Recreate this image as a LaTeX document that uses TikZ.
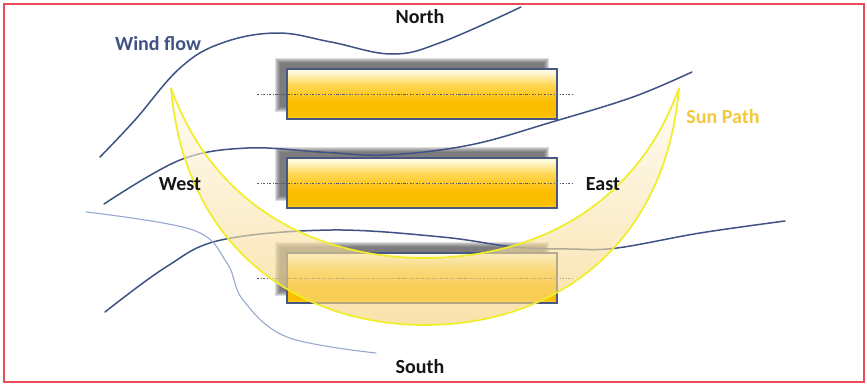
\documentclass[tikz,border=0pt]{standalone}
\usepackage{fontspec}
\setmainfont{Carlito}
\definecolor{framec}{RGB}{232,78,90}
\definecolor{windc}{RGB}{62,82,132}
\definecolor{windl}{RGB}{150,170,205}
\definecolor{rectb}{RGB}{72,88,130}
\definecolor{barB}{RGB}{255,208,50}
\definecolor{barO}{RGB}{252,190,0}
\definecolor{barM}{RGB}{255,216,90}
\definecolor{barT}{RGB}{255,249,220}
\definecolor{shadowc}{RGB}{70,70,72}
\definecolor{dotc}{RGB}{90,90,110}
\definecolor{sunline}{RGB}{240,238,40}
\definecolor{sunT}{RGB}{255,252,242}
\definecolor{sunB}{RGB}{246,210,120}
\definecolor{suntext}{RGB}{244,200,60}
\definecolor{blacktext}{RGB}{22,22,22}
\pgfdeclareverticalshading{barshade}{100bp}{color(0bp)=(barB); color(25bp)=(barB); color(29bp)=(barO); color(42bp)=(barO); color(60bp)=(barM); color(72bp)=(barT); color(75bp)=(barT); color(100bp)=(barT)}
\begin{document}
\begin{tikzpicture}[x=1pt,y=-1pt,
  windline/.style={draw=windc,line width=1.5pt,line cap=round},
  windlight/.style={draw=windl,line width=1.1pt,line cap=round},
  barbox/.style={draw=rectb,line width=1.1pt,shading=barshade},
  axisline/.style={draw=dotc,line width=0.8pt,dash pattern=on 2.2pt off 1.6pt on 0.7pt off 1.6pt},
  sunedge/.style={draw=sunline,line width=1.7pt},
  lbl/.style={font=\fontsize{20}{24}\selectfont\bfseries,inner sep=0pt}]
\useasboundingbox (0,0) rectangle (867,384);
\fill[white] (0,0) rectangle (867,384);
\draw[framec,line width=1.2pt] (4,4) rectangle (864,382);

% shadows
\foreach \y in {59,148,243}{
  \foreach \i in {0,...,5}{
    \fill[shadowc,opacity=0.18] (275+\i,\y-1+\i) rectangle (549-\i,\y+53-\i);
  }
}
% bars
\foreach \y/\n in {69/top,158/mid,253/bot}{
  \path[barbox] (287,\y) rectangle (557,\y+50);
  \draw[axisline] (257,\y+25) -- (573,\y+25);
}

% wind flow
\draw[windline] plot[smooth,tension=0.65] coordinates {(100,157) (135,120) (180,68) (222,43) (277,33) (331,42) (392,54) (442,42) (521,7)};
\draw[windline] plot[smooth,tension=0.6] coordinates {(104,204) (180,160) (247,148) (320,152) (387,155) (470,145) (552,122) (633,97) (692,72)};
\draw[windline] plot[smooth,tension=0.6] coordinates {(105,312) (166,267) (221,240) (331,230) (442,237) (514,247) (570,249) (617,248) (700,233) (785,221)};
\draw[windlight] plot[smooth,tension=0.6] coordinates {(86,212) (193,230) (227,263) (243,300) (287,337) (376,353)};

% sun path crescent
\shade[top color=sunT,bottom color=sunB,fill opacity=0.62]
  (171,88) .. controls (185,250) and (300,325) .. (425,325)
  .. controls (550,325) and (665,250) .. (679,88)
  .. controls (635,210) and (530,258) .. (425,258)
  .. controls (320,258) and (215,210) .. (171,88) -- cycle;
\draw[sunedge] (171,88) .. controls (185,250) and (300,325) .. (425,325)
  .. controls (550,325) and (665,250) .. (679,88);
\draw[sunedge] (171,88) .. controls (215,210) and (320,258) .. (425,258)
  .. controls (530,258) and (635,210) .. (679,88);

% labels
\node[lbl,text=blacktext] (north) at (420,17) {North};
\node[lbl,text=blacktext] (south) at (420,367) {South};
\node[lbl,text=blacktext] (west) at (180,184) {West};
\node[lbl,text=blacktext] (east) at (603,184) {East};
\node[lbl,text=windc] (wind) at (158,44) {Wind flow};
\node[lbl,text=suntext] (sun) at (723,117) {Sun Path};
\end{tikzpicture}
\end{document}
